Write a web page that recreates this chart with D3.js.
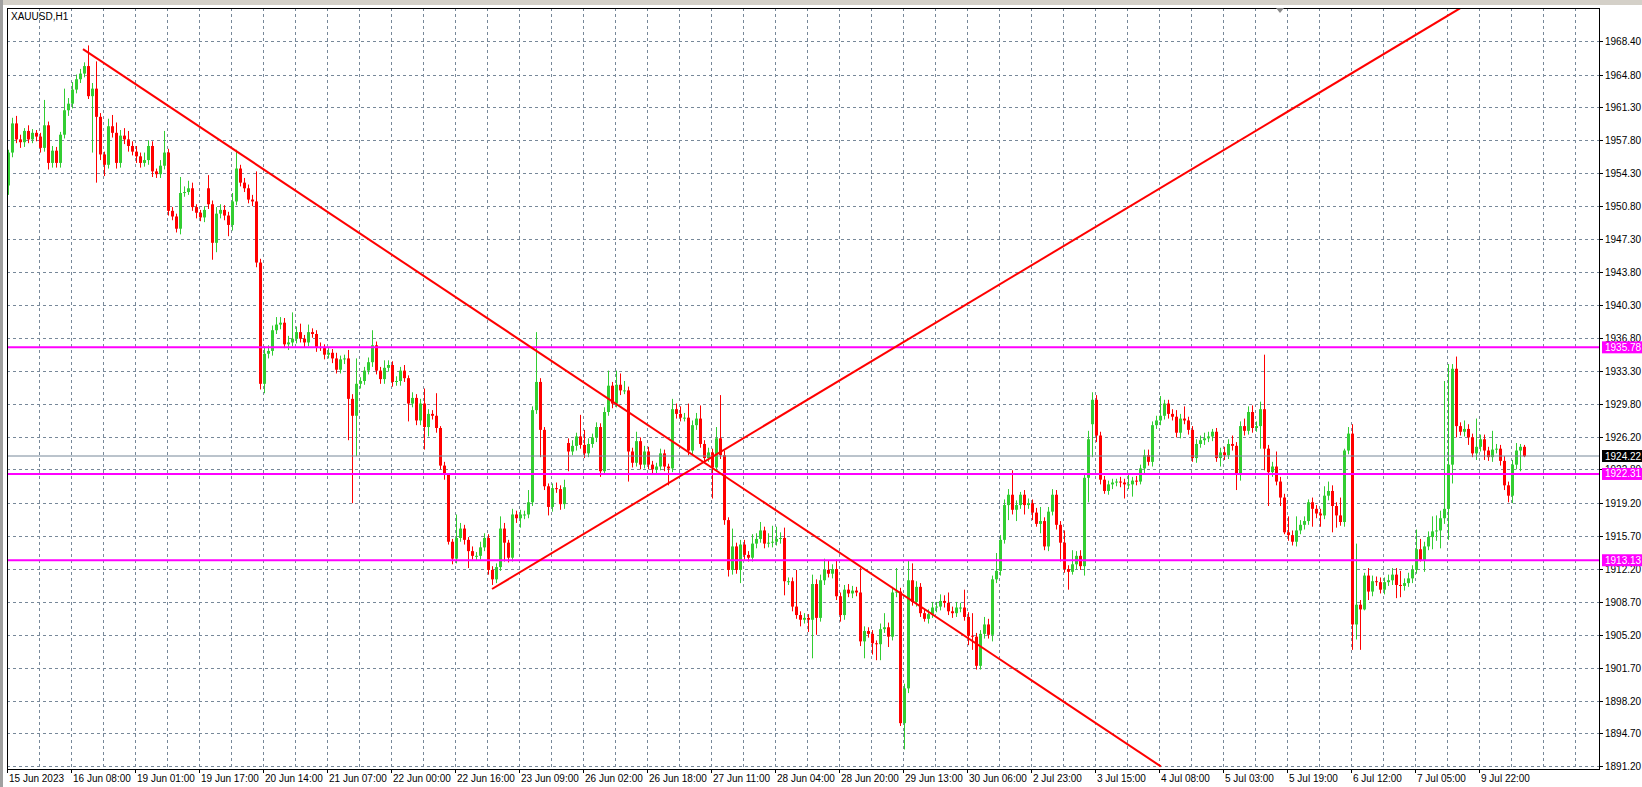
<!DOCTYPE html>
<html><head><meta charset="utf-8">
<script src="https://cdn.jsdelivr.net/npm/d3@7"></script>
<style>html,body{margin:0;padding:0;background:#fff;overflow:hidden}</style>
</head><body>
<svg id="c" width="1642" height="787"></svg>
<script>
const symbolTitle = "XAUUSD,H1";
const firstOpen = 1953.0;
const closes = [
1956.5,1959.6,1957.9,1957.6,1958.8,1957.9,1958.6,1958.2,1957.0,1959.4,
1955.4,1956.7,1955.4,1958.4,1961.0,1961.7,1963.2,1964.3,1964.9,1965.7,
1962.5,1963.3,1960.3,1956.3,1955.2,1959.3,1958.6,1955.4,1958.3,1957.9,
1957.2,1956.6,1956.1,1955.4,1955.7,1957.2,1954.5,1954.2,1955.1,1956.5,
1950.3,1949.7,1948.4,1952.2,1952.3,1952.7,1950.7,1950.1,1949.6,1950.4,
1951.0,1946.9,1950.0,1950.4,1949.8,1948.8,1951.3,1954.8,1953.3,1952.7,
1951.5,1951.3,1944.8,1931.9,1935.1,1935.4,1937.6,1938.2,1938.4,1936.1,
1936.3,1936.7,1937.4,1936.7,1936.3,1937.4,1937.2,1935.8,1935.7,1935.0,
1935.2,1934.6,1933.4,1934.5,1934.6,1930.3,1928.5,1931.9,1932.2,1933.3,
1934.2,1936.0,1933.3,1932.4,1933.6,1933.9,1932.1,1932.2,1933.3,1932.5,
1929.8,1930.4,1928.0,1929.8,1927.3,1928.7,1928.5,1927.2,1923.2,1922.2,
1915.1,1913.3,1915.5,1916.5,1915.3,1914.1,1913.6,1913.6,1914.5,1915.5,
1912.1,1911.1,1912.4,1916.5,1915.0,1913.4,1918.0,1917.6,1918.0,1918.0,
1919.3,1929.1,1932.1,1927.0,1921.0,1918.8,1920.8,1920.7,1919.1,1920.9,
1924.7,1925.3,1926.3,1925.4,1924.5,1925.5,1926.2,1927.3,1922.6,1928.9,
1931.7,1929.8,1931.8,1931.2,1931.2,1924.7,1923.5,1925.8,1923.3,1924.7,
1923.3,1922.8,1923.1,1924.5,1923.1,1922.9,1929.2,1928.7,1928.3,1928.3,
1924.8,1927.5,1928.2,1925.5,1924.0,1924.6,1923.0,1926.1,1924.3,1917.4,
1912.1,1914.6,1912.1,1914.8,1913.7,1913.4,1914.9,1915.4,1916.3,1914.9,
1915.0,1915.1,1915.4,1915.5,1910.9,1910.9,1908.2,1907.3,1906.8,1907.0,
1906.8,1910.6,1907.0,1911.0,1912.1,1911.7,1912.2,1909.3,1907.3,1910.0,
1909.6,1909.9,1909.7,1904.5,1905.6,1905.3,1904.3,1904.2,1905.8,1906.0,
1905.0,1909.7,1909.8,1895.8,1899.5,1911.0,1908.7,1910.3,1907.5,1906.9,
1907.4,1908.1,1908.2,1908.8,1908.6,1907.7,1907.5,1908.1,1908.1,1907.1,
1905.1,1905.0,1901.9,1905.3,1906.3,1905.2,1911.1,1912.0,1915.3,1919.0,
1920.1,1918.5,1919.0,1920.1,1919.0,1919.2,1918.2,1917.0,1917.3,1914.6,
1918.3,1920.1,1916.9,1915.0,1912.2,1911.9,1912.7,1913.6,1912.5,1921.9,
1926.0,1930.2,1926.4,1921.7,1920.5,1921.2,1921.4,1921.5,1921.4,1921.2,
1921.2,1921.6,1921.5,1922.9,1924.3,1923.6,1927.5,1928.0,1928.5,1929.8,
1928.7,1928.4,1926.7,1928.2,1928.0,1927.0,1924.0,1925.5,1925.9,1926.1,
1926.3,1926.8,1924.0,1924.6,1924.3,1925.5,1925.3,1922.2,1927.4,1926.9,
1928.9,1927.2,1927.4,1929.2,1925.0,1922.5,1923.1,1921.5,1919.8,1916.1,
1915.8,1915.1,1916.3,1916.9,1917.3,1919.3,1918.6,1918.1,1917.9,1920.0,
1920.5,1918.9,1917.9,1917.2,1924.8,1926.6,1906.3,1908.4,1907.9,1911.5,
1909.8,1910.9,1910.8,1910.0,1910.8,1911.0,1911.6,1910.5,1910.4,1910.7,
1911.2,1912.1,1914.3,1913.1,1914.6,1915.6,1916.2,1916.3,1917.6,1918.6,
1923.3,1933.5,1927.4,1926.8,1927.1,1926.2,1924.5,1925.2,1926.0,1924.8,
1924.1,1924.9,1925.0,1923.7,1921.1,1920.0,1923.3,1924.8,1925.2,1924.2];
// bars whose open differs from the previous close: [bar, open]
const gapOpens = [[50,1952.7],[140,1925.6],[271,1927.6]];
const upperWicks = [
0.3,0.6,0.8,0.5,0.3,0.6,0.4,0.3,0.4,2.7, 0.4,0.5,0.4,0.3,2.3,0.6,0.8,0.5,0.5,0.4,
2.2,0.6,2.9,0.4,0.3,0.8,1.2,1.1,0.6,0.8, 0.9,0.5,0.6,0.4,0.8,0.6,0.5,0.3,0.6,2.3,
0.4,0.4,0.3,1.7,0.6,0.8,0.6,0.3,0.3,0.4, 1.4,0.4,0.7,0.6,0.5,0.4,0.9,2.0,0.4,0.5,
0.4,0.5,3.2,0.4,0.8,0.6,0.5,0.8,0.6,0.5, 0.7,2.8,0.6,0.9,0.4,0.8,0.4,0.4,0.5,0.4,
0.5,0.4,0.6,0.4,0.4,0.9,0.5,2.7,0.4,0.4, 0.5,1.6,0.4,0.4,0.8,0.5,0.4,0.5,0.4,0.6,
0.3,0.6,0.4,0.5,1.6,0.5,0.4,2.4,0.2,0.4, 0.2,0.3,2.5,0.6,0.4,0.3,0.5,0.4,0.6,0.5,
0.4,0.4,0.4,1.3,0.6,0.3,0.6,0.4,0.5,0.4, 1.3,0.4,5.3,0.4,0.3,0.3,0.5,0.6,0.4,0.8,
0.5,0.6,0.4,2.3,1.6,0.6,0.4,0.5,0.4,0.5, 1.6,0.4,1.5,1.2,1.0,0.4,0.4,1.0,0.4,0.6,
0.5,0.4,0.4,0.5,0.4,0.3,1.1,0.6,0.8,0.5, 1.5,0.5,0.6,1.4,0.4,0.5,0.4,1.2,4.6,0.5,
0.3,1.9,0.4,0.5,0.5,0.4,1.0,0.6,0.9,0.4, 1.0,1.7,1.3,0.6,1.1,0.4,0.4,3.9,0.4,0.5,
0.4,1.0,0.5,0.6,1.2,1.0,0.5,1.0,0.4,0.5, 0.6,0.5,0.4,2.6,0.5,0.4,0.4,0.3,0.6,1.5,
0.5,0.6,2.5,0.4,0.5,2.1,1.8,0.6,0.4,0.4, 0.5,0.6,0.5,0.7,0.6,1.1,0.5,0.6,0.5,1.9,
0.5,2.4,0.4,0.4,0.8,0.6,0.4,1.9,0.5,0.6, 0.6,2.6,0.5,0.3,0.5,0.5,0.4,0.5,1.5,0.4,
0.5,0.6,0.5,0.4,1.3,0.4,1.5,0.5,0.6,0.5, 0.9,0.8,0.5,0.4,0.4,0.4,0.4,0.3,0.5,0.4,
1.0,0.4,0.5,0.4,0.6,0.6,0.4,0.5,2.1,0.4, 0.4,0.5,0.7,0.5,1.3,0.4,0.4,0.5,0.5,0.6,
0.5,0.3,0.4,0.5,0.6,0.5,0.9,0.4,0.5,0.8, 0.6,0.7,0.5,0.8,5.8,0.4,0.5,1.6,0.5,0.4,
1.7,0.5,1.5,0.5,0.5,0.3,0.5,0.4,0.5,1.0, 1.0,0.6,0.4,1.9,0.2,0.7,1.0,6.5,0.5,0.3,
0.8,0.6,0.5,0.5,0.5,0.6,0.7,0.7,1.5,0.5, 0.6,0.5,2.1,1.1,0.5,0.6,1.6,1.6,0.8,13.6,
10.7,0.5,1.3,0.4,0.9,0.5,0.4,3.0,0.5,0.5, 0.4,2.0,0.5,0.4,0.5,0.4,0.5,0.8,0.3,0.2];
const lowerWicks = [
1.0,0.5,0.4,0.6,0.5,0.4,0.4,0.5,0.5,0.4, 0.7,0.5,0.5,0.5,0.4,0.6,0.5,0.4,0.4,0.4,
0.3,6.0,7.0,0.6,1.2,0.4,0.5,0.6,0.5,0.5, 0.6,0.4,0.7,0.5,0.4,0.5,0.6,0.4,0.4,0.4,
0.5,0.4,0.4,0.6,0.4,0.3,0.4,0.6,0.4,0.5, 0.5,1.8,1.0,0.5,0.5,1.2,0.6,0.4,0.4,0.4,
0.4,0.5,0.5,0.6,1.0,0.5,0.5,0.4,0.5,0.4, 0.6,0.4,0.5,0.4,0.5,0.4,0.4,0.5,0.3,0.5,
0.4,0.5,0.4,0.4,0.5,4.4,9.3,4.3,0.5,0.4, 0.4,0.5,0.4,0.5,0.5,0.4,0.5,0.4,0.5,0.4,
1.9,0.4,0.5,0.5,2.4,1.0,0.4,0.5,0.4,0.5, 0.3,0.6,0.5,0.4,0.5,1.8,0.4,0.5,0.4,0.4,
0.5,0.6,0.4,0.4,2.0,0.5,0.4,0.5,1.0,0.5, 0.4,0.4,0.4,2.9,0.4,0.9,0.5,0.4,0.6,0.5,
2.1,0.4,0.5,0.4,0.5,0.4,0.4,0.5,0.6,0.4, 0.4,0.5,0.4,0.5,0.4,3.2,0.5,0.4,0.5,0.4,
0.5,0.4,0.5,0.4,0.5,1.8,0.4,0.5,0.4,0.4, 0.5,0.4,0.5,0.4,0.5,0.4,3.3,0.4,0.4,0.5,
0.7,0.5,0.4,1.4,0.5,0.4,0.4,0.5,0.4,0.5, 0.4,0.5,0.4,0.5,1.5,0.4,0.5,0.4,0.7,0.4,
1.3,4.1,1.8,0.4,0.5,0.4,0.5,0.4,0.7,0.5, 0.4,0.5,0.4,0.5,1.8,0.4,1.2,1.7,1.7,0.4,
1.1,0.4,0.5,0.3,2.8,0.5,0.4,0.5,0.4,0.3, 0.5,0.4,0.5,0.4,0.5,0.4,0.5,0.4,0.5,0.4,
1.0,1.4,0.4,0.4,0.5,0.4,0.7,0.4,0.5,0.4, 1.6,0.5,1.2,0.4,1.0,0.4,0.8,0.3,1.0,0.4,
0.5,0.4,0.5,2.0,0.4,1.9,0.3,0.5,0.4,1.0, 2.6,3.5,0.7,0.5,0.3,0.4,0.5,0.4,0.5,1.5,
0.5,1.3,0.4,0.3,0.5,0.4,0.5,0.4,0.5,0.4, 0.5,0.4,0.5,0.6,0.4,0.5,0.4,0.5,0.4,0.5,
0.4,0.5,0.4,0.9,0.5,0.4,0.5,1.6,0.6,0.5, 0.4,0.5,0.4,2.4,2.3,3.6,0.5,0.4,0.9,0.2,
0.6,0.4,0.5,0.4,0.5,0.4,1.9,0.5,1.2,0.4, 0.5,2.8,1.3,0.4,0.5,0.4,2.7,1.6,4.3,0.1,
0.9,0.5,0.4,0.4,0.5,0.4,0.5,1.4,1.2,0.5, 0.4,0.5,0.4,0.1,1.2,0.4,1.3,1.0,1.9,0.6,
3.3,2.0,1.2,0.4,0.5,0.8,0.4,0.7,0.5,1.0, 0.4,0.5,0.4,0.5,0.5,0.7,0.8,0.5,2.2,0.1];

const priceTicks = [1968.40,1964.80,1961.30,1957.80,1954.30,1950.80,1947.30,1943.80,1940.30,1936.80,1933.30,1929.80,1926.20,1922.80,1919.20,1915.70,1912.20,1908.70,1905.20,1901.70,1898.20,1894.70,1891.20];
const timeLabels = ["15 Jun 2023","16 Jun 08:00","19 Jun 01:00","19 Jun 17:00","20 Jun 14:00","21 Jun 07:00","22 Jun 00:00","22 Jun 16:00","23 Jun 09:00","26 Jun 02:00","26 Jun 18:00","27 Jun 11:00","28 Jun 04:00","28 Jun 20:00","29 Jun 13:00","30 Jun 06:00","2 Jul 23:00","3 Jul 15:00","4 Jul 08:00","5 Jul 03:00","5 Jul 19:00","6 Jul 12:00","7 Jul 05:00","9 Jul 22:00"];
const levels = [1935.78, 1922.31, 1913.13];
const bidPrice = 1924.22;
// trend lines: [startBar, startPrice, endBar, endPrice]
const trendDown = [18.75, 1967.5, 288.2, 1891.2];
const trendUp = [121, 1910.07, 363, 1971.85];

// ---------- drawing ----------
const L = 7, R = 1599, T = 8, B = 769;
const svg = d3.select("#c");
const font = "Liberation Sans, Arial, sans-serif";
const fs = 10;
const x = d3.scaleLinear().domain([0, closes.length - 1]).range([8, 1524]);
const y = d3.scaleLinear().domain([1891.2, 1968.4]).range([766.4, 40.7]);

svg.append("rect").attr("x",0).attr("y",0).attr("width",1642).attr("height",5).attr("fill","#d4d0c8");
svg.append("rect").attr("x",0).attr("y",0).attr("width",3).attr("height",787).attr("fill","#a0a0a0");

const clip = svg.append("defs").append("clipPath").attr("id","pc");
clip.append("rect").attr("x",L).attr("y",T).attr("width",R-L).attr("height",B-T);

// grid
const g = svg.append("g");
priceTicks.forEach(p => {
  g.append("line").attr("x1",L).attr("x2",R).attr("y1",Math.round(y(p))+0.5).attr("y2",Math.round(y(p))+0.5)
   .attr("stroke","#778899").attr("stroke-dasharray","3,3");
});
for (let k = 1; 7 + 32*k < R; k++) {
  const xx = 7 + 32*k + 0.5;
  g.append("line").attr("x1",xx).attr("x2",xx).attr("y1",T).attr("y2",B).attr("stroke","#778899").attr("stroke-dasharray","3,3");
}

// candles
const opens = closes.map((c,i) => i === 0 ? firstOpen : closes[i-1]);
gapOpens.forEach(([i,o]) => opens[i] = o);
const bars = closes.map((c,i) => ({i, o: opens[i], c, h: Math.max(opens[i],c)+upperWicks[i], l: Math.min(opens[i],c)-lowerWicks[i]}));
const cg = svg.append("g").attr("clip-path","url(#pc)");
bars.forEach(b => {
  const col = b.c >= b.o ? "#32cd32" : "#ff0000";
  const cx = Math.round(x(b.i));
  cg.append("rect").attr("x",cx).attr("y",y(b.h)).attr("width",1).attr("height",Math.max(1,y(b.l)-y(b.h))).attr("fill",col);
  const top = y(Math.max(b.o,b.c)), bot = y(Math.min(b.o,b.c));
  cg.append("rect").attr("x",cx-1).attr("y",top).attr("width",3).attr("height",Math.max(1,bot-top)).attr("fill",col);
});

// horizontal levels
const lg = svg.append("g").attr("clip-path","url(#pc)");
lg.append("line").attr("x1",L).attr("x2",R).attr("y1",y(bidPrice)).attr("y2",y(bidPrice)).attr("stroke","#778899").attr("stroke-width",1);
levels.forEach(p => lg.append("line").attr("x1",L).attr("x2",R).attr("y1",y(p)).attr("y2",y(p)).attr("stroke","#ff00ff").attr("stroke-width",2));

// trend lines
[trendDown, trendUp].forEach(t => {
  lg.append("line").attr("x1",x(t[0])).attr("y1",y(t[1])).attr("x2",x(t[2])).attr("y2",y(t[3]))
    .attr("stroke","#ff0000").attr("stroke-width",2);
});

// frame
svg.append("rect").attr("x",L+0.5).attr("y",T+0.5).attr("width",R-L).attr("height",B-T).attr("fill","none").attr("stroke","#000");
svg.append("path").attr("d","M1276,8 L1284,8 L1280,13 Z").attr("fill","#888");

// title
svg.append("text").attr("x",11).attr("y",20).attr("font-family",font).attr("font-size",fs).text(symbolTitle);

// price axis (the 1922.80 label sits behind the 1922.31 box, as in the original)
priceTicks.forEach(p => {
  const yy = Math.round(y(p))+0.5;
  svg.append("line").attr("x1",R).attr("x2",R+4).attr("y1",yy).attr("y2",yy).attr("stroke","#000");
  svg.append("text").attr("x",1605).attr("y",yy+3.5).attr("font-family",font).attr("font-size",fs).text(p.toFixed(2));
});
function priceBox(p, fill) {
  const yy = y(p);
  svg.append("rect").attr("x",1602).attr("y",yy-6).attr("width",40).attr("height",12).attr("fill",fill);
  svg.append("text").attr("x",1605).attr("y",yy+3.5).attr("font-family",font).attr("font-size",fs).attr("fill","#fff").text(p.toFixed(2));
}
levels.forEach(p => priceBox(p, "#ff00ff"));
priceBox(bidPrice, "#000");

// time axis
timeLabels.forEach((t,k) => {
  const xx = 7 + 64*k + 0.5;
  svg.append("line").attr("x1",xx).attr("x2",xx).attr("y1",B).attr("y2",B+4).attr("stroke","#000");
  svg.append("text").attr("x",xx+1.5).attr("y",782).attr("font-family",font).attr("font-size",fs).text(t);
});
</script>
</body></html>
